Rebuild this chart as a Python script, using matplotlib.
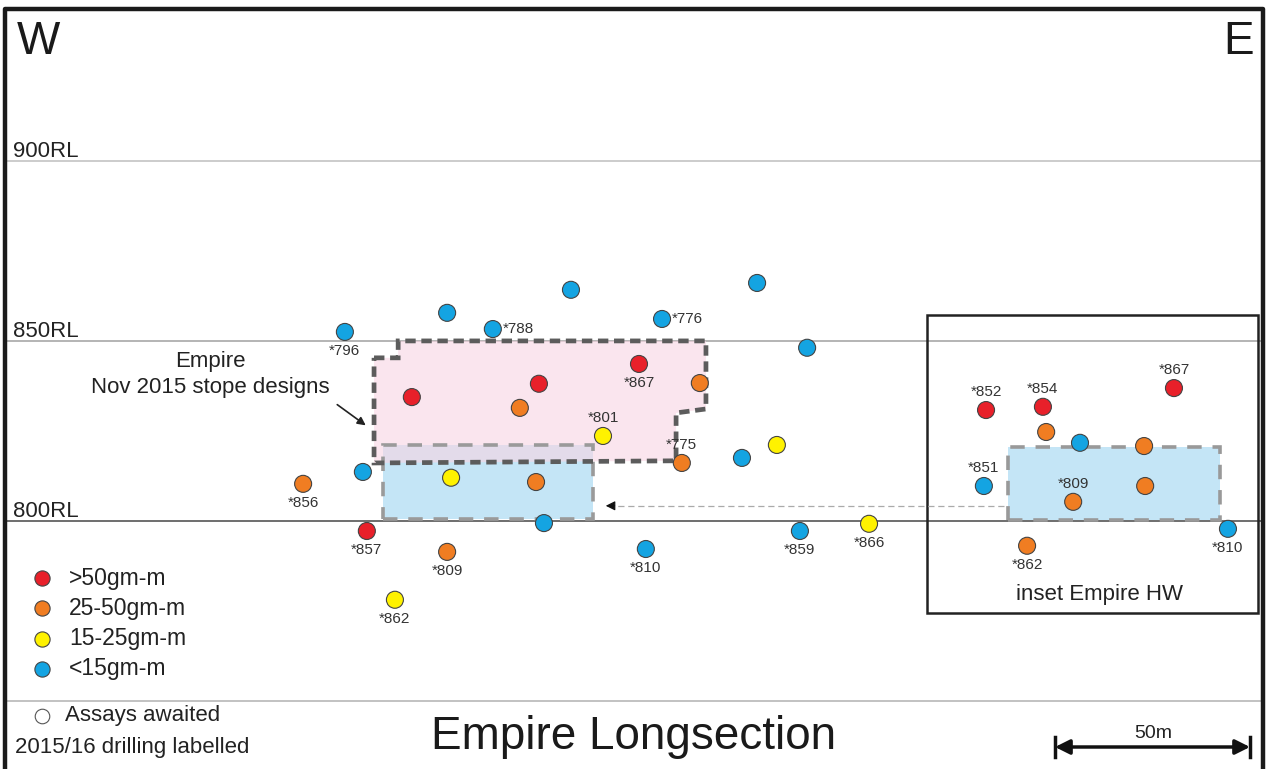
import matplotlib.pyplot as plt
from matplotlib.patches import Polygon, Rectangle
import numpy as np

plt.rcParams['font.family'] = ['Liberation Sans', 'DejaVu Sans']

# section scale: 3.6 px per metre, RL in metres
PX_PER_M = 3.6
W_PX, H_PX = 1270, 769
RL_TOP = 944.7
RL_BOT = RL_TOP - H_PX / PX_PER_M
E_MAX = W_PX / PX_PER_M

# drill hole pierce points (easting m, RL m, grade class, label)
hole_e = [95.8, 124.2, 136.9, 158.6, 183.9, 210.3, 224.2,
          114.4, 149.7, 177.5, 144.4, 194.4, 167.5, 189.4,
          206.1, 215.8, 100.8, 84.2, 125.3, 148.9, 151.1,
          101.9, 124.2, 109.7, 179.4, 222.2, 241.4,
          273.9, 289.7, 326.1, 290.6, 300.0, 317.8, 273.3,
          298.1, 318.1, 285.3, 341.1]
hole_rl = [852.5, 857.8, 853.3, 864.2, 856.1, 866.1, 848.1,
           834.4, 838.1, 843.6, 831.4, 838.3, 823.6, 816.1,
           817.5, 821.1, 813.6, 810.3, 812.0, 810.8, 799.4,
           797.2, 791.4, 778.1, 792.2, 797.2, 799.2,
           830.8, 831.7, 836.9, 824.7, 821.7, 820.8, 809.7,
           805.3, 809.7, 793.1, 797.8]
hole_grade = ['b', 'b', 'b', 'b', 'b', 'b', 'b',
              'r', 'r', 'r', 'o', 'o', 'y', 'o',
              'b', 'y', 'b', 'o', 'y', 'o', 'b',
              'r', 'o', 'y', 'b', 'b', 'y',
              'r', 'r', 'r', 'o', 'b', 'o', 'b',
              'o', 'o', 'o', 'b']
hole_label = ['*796', '', '*788', '', '*776', '', '',
              '', '', '*867', '', '', '*801', '*775',
              '', '', '', '*856', '', '', '',
              '*857', '*809', '*862', '*810', '*859', '*866',
              '*852', '*854', '*867', '', '', '', '*851',
              '*809', '', '*862', '*810']
hole_label_pos = ['below', '', 'right', '', 'right', '', '',
                  '', '', 'below', '', '', 'above', 'above',
                  '', '', '', 'below', '', '', '',
                  'below', 'below', 'below', 'below', 'below', 'below',
                  'above', 'above', 'above', '', '', '', 'above',
                  'above', '', 'below', 'below']

grade_keys = ['r', 'o', 'y', 'b']
grade_names = ['>50gm-m', '25-50gm-m', '15-25gm-m', '<15gm-m']
grade_colors = {'r': '#e8202a', 'o': '#f07d22', 'y': '#fff200', 'b': '#14a4e2'}

levels = [900, 850, 800, 750]
level_labels = ['900RL', '850RL', '800RL', '']
level_colors = ['#c4c4c4', '#a8a8a8', '#555555', '#b8b8b8']

# stope outlines (easting, RL)
stope_2015 = [(103.9, 845.3), (110.6, 845.3), (110.6, 850.0), (196.1, 850.0),
              (196.1, 831.1), (187.8, 830.0), (187.8, 816.7), (103.9, 816.1)]
stope_blue = (106.4, 800.6, 164.7, 821.1)
stope_hw = (280.0, 800.3, 338.9, 820.6)
inset_box = (257.5, 774.4, 349.4, 857.2)
arrow_rl = 804.2
arrow_from, arrow_to = 279.0, 167.5

fig = plt.figure(figsize=(W_PX / 100, H_PX / 100), dpi=100)
ax = fig.add_axes([0, 0, 1, 1])
ax.set_xlim(0, E_MAX)
ax.set_ylim(RL_BOT, RL_TOP)
ax.axis('off')

fx = lambda px: px / W_PX
fy = lambda py: 1 - py / H_PX

# RL lines
for lv, lab, col in zip(levels, level_labels, level_colors):
    ax.plot([5 / PX_PER_M, 1263 / PX_PER_M], [lv, lv], color=col, lw=1.2, zorder=1)
    if lab:
        ax.text(13 / PX_PER_M, lv + 1.1, lab, fontsize=16, color='#222222',
                ha='left', va='baseline')

# stopes
x0, y0, x1, y1 = stope_blue
ax.add_patch(Rectangle((x0, y0), x1 - x0, y1 - y0, facecolor='#c4e5f6',
                       edgecolor='none', zorder=2))
ax.add_patch(Polygon(stope_2015, closed=True, facecolor='#f8d5e3', alpha=0.6,
                     edgecolor='none', zorder=3))
ax.add_patch(Rectangle((x0, y0), x1 - x0, y1 - y0, facecolor='none', edgecolor='#9a9a9a',
                       lw=2.6, ls=(0, (4, 3)), zorder=4))
ax.add_patch(Polygon(stope_2015, closed=True, facecolor='none', edgecolor='#5c5c5c',
                     lw=3.4, ls=(0, (2.2, 1.2)), zorder=5))
x0, y0, x1, y1 = stope_hw
ax.add_patch(Rectangle((x0, y0), x1 - x0, y1 - y0, facecolor='#c4e5f6', edgecolor='#999999',
                       lw=2.6, ls=(0, (4, 3)), zorder=3))
x0, y0, x1, y1 = inset_box
ax.add_patch(Rectangle((x0, y0), x1 - x0, y1 - y0, facecolor='none', edgecolor='#222222',
                       lw=1.8, zorder=2))
ax.text((x0 + x1) / 2 + 2, y0 + 5.3, 'inset Empire HW', fontsize=16, ha='center',
        va='center', color='#222222')

# dashed pointer from inset to stope
ax.plot([arrow_from, arrow_to + 3], [arrow_rl, arrow_rl], color='#aaaaaa', lw=0.9,
        ls=(0, (5, 3)), zorder=2)
ax.annotate('', xy=(arrow_to, arrow_rl), xytext=(arrow_to + 4, arrow_rl),
            arrowprops=dict(arrowstyle='-|>', color='#111111', lw=0.8,
                            mutation_scale=14), zorder=2)

# drill holes
cols = [grade_colors[g] for g in hole_grade]
ax.scatter(hole_e, hole_rl, s=150, c=cols, edgecolors='#444444', linewidths=0.8, zorder=6)
offs = {'below': ((0, -14), 'center', 'center'),
        'above': ((0, 13), 'center', 'center'),
        'right': ((7, 0), 'left', 'center')}
for e, rl, lab, pos in zip(hole_e, hole_rl, hole_label, hole_label_pos):
    if not lab:
        continue
    (dx, dy), ha, va = offs[pos]
    ax.annotate(lab, (e, rl), xytext=(dx, dy), textcoords='offset points',
                fontsize=11, ha=ha, va=va, color='#333333', zorder=7)

# stope design label with arrow
fig.text(fx(210), fy(362), 'Empire', fontsize=16, ha='center', va='center', color='#222222')
fig.text(fx(210), fy(388), 'Nov 2015 stope designs', fontsize=16, ha='center',
         va='center', color='#222222')
ax.annotate('', xy=(368 / PX_PER_M, RL_TOP - 427 / PX_PER_M),
            xytext=(335 / PX_PER_M, RL_TOP - 403 / PX_PER_M),
            arrowprops=dict(arrowstyle='-|>', color='#222222', lw=1.2, mutation_scale=12))

# W / E
fig.text(fx(17), fy(42), 'W', fontsize=33, ha='left', va='center', color='#1a1a1a')
fig.text(fx(1254), fy(42), 'E', fontsize=33, ha='right', va='center', color='#1a1a1a')

# legend
for i, (k, name) in enumerate(zip(grade_keys, grade_names)):
    y = 578 + 30.3 * i
    ax.scatter([42 / PX_PER_M], [RL_TOP - y / PX_PER_M], s=120, c=grade_colors[k],
               edgecolors='#444444', linewidths=0.8, zorder=6)
    fig.text(fx(69), fy(y), name, fontsize=16.5, ha='left', va='center', color='#222222')
ax.scatter([42 / PX_PER_M], [RL_TOP - 716 / PX_PER_M], s=110, facecolors='white',
           edgecolors='#555555', linewidths=0.8, zorder=6)
fig.text(fx(65), fy(716), 'Assays awaited', fontsize=16, ha='left', va='center', color='#222222')
fig.text(fx(15), fy(748), '2015/16 drilling labelled', fontsize=16, ha='left', va='center',
         color='#222222')

# title
fig.text(fx(634), fy(737), 'Empire Longsection', fontsize=33, ha='center', va='center',
         color='#1a1a1a')

# scale bar
sb_y = RL_TOP - 747 / PX_PER_M
sb0, sb1 = 1055 / PX_PER_M, 1250 / PX_PER_M
ax.annotate('', xy=(sb0, sb_y), xytext=(sb1, sb_y),
            arrowprops=dict(arrowstyle='<|-|>', color='#111111', lw=2.5, mutation_scale=22,
                            shrinkA=0, shrinkB=0))
for sx in (sb0, sb1):
    ax.plot([sx, sx], [sb_y - 2.8, sb_y + 2.8], color='#111111', lw=2.5)
fig.text(fx(1153), fy(733), '50m', fontsize=14, ha='center', va='center', color='#222222')

# frame
ax.plot([fx(5), fx(5), fx(1263), fx(1263)], [-0.1, fy(9), fy(9), -0.1],
        transform=ax.transAxes, color='#1a1a1a', lw=3.2, clip_on=False, zorder=8)

fig.savefig('out.png', dpi=100, facecolor='white')
